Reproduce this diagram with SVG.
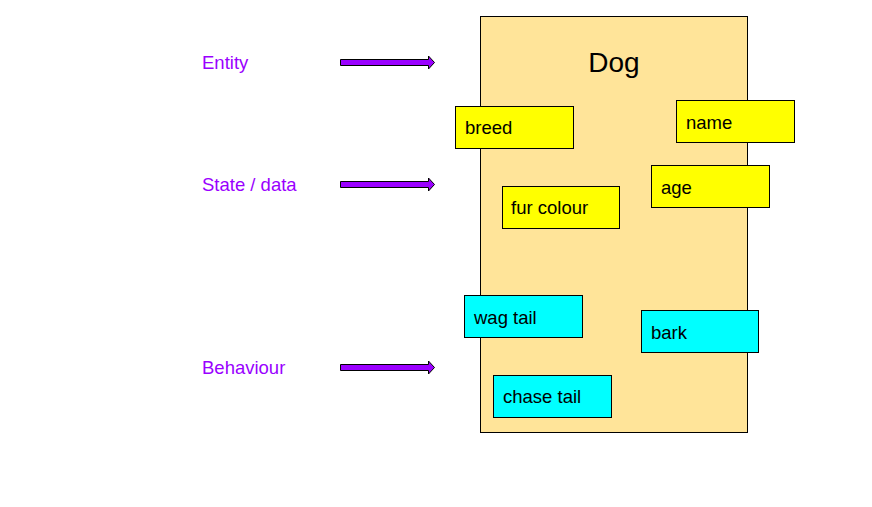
<svg xmlns="http://www.w3.org/2000/svg" width="872" height="507" viewBox="0 0 872 507">
<style>
.lbl{font-family:"Liberation Sans",Arial,sans-serif;font-size:18.5px;fill:#9a00ff}
.t{font-family:"Liberation Sans",Arial,sans-serif;font-size:18.5px;fill:#000}
.st{fill:#ffff00;stroke:#000;stroke-width:1}
.bh{fill:#00ffff;stroke:#000;stroke-width:1}
.arr{fill:#9a00ff;stroke:#000;stroke-width:1}
</style>
<rect width="872" height="507" fill="#fff"/>
<g id="dog">
<rect x="480.5" y="16.5" width="267" height="416" fill="#ffe499" stroke="#000"/>
<text x="614" y="72" text-anchor="middle" font-family="Liberation Sans, Arial, sans-serif" font-size="28">Dog</text>
</g>
<g id="label-entity"><text class="lbl" x="202" y="69">Entity</text></g>
<g id="label-state"><text class="lbl" x="202" y="191">State / data</text></g>
<g id="label-behaviour"><text class="lbl" x="202" y="374">Behaviour</text></g>
<g id="connectors">
<path class="arr" d="M340.5,59.5 H428.5 V56 L434.5,62.5 L428.5,69 V65.5 H340.5 Z"/>
<path class="arr" d="M340.5,181.5 H428.5 V178 L434.5,184.5 L428.5,191 V187.5 H340.5 Z"/>
<path class="arr" d="M340.5,364.5 H428.5 V361 L434.5,367.5 L428.5,374 V370.5 H340.5 Z"/>
</g>
<g id="breed"><rect class="st" x="455.5" y="106.5" width="118" height="42"/><text class="t" x="465" y="134">breed</text></g>
<g id="name"><rect class="st" x="676.5" y="100.5" width="118" height="42"/><text class="t" x="686" y="129">name</text></g>
<g id="age"><rect class="st" x="651.5" y="165.5" width="118" height="42"/><text class="t" x="661" y="194">age</text></g>
<g id="fur-colour"><rect class="st" x="502.5" y="186.5" width="117" height="42"/><text class="t" x="511" y="214">fur colour</text></g>
<g id="wag-tail"><rect class="bh" x="464.5" y="295.5" width="118" height="42"/><text class="t" x="474" y="324">wag tail</text></g>
<g id="bark"><rect class="bh" x="641.5" y="310.5" width="117" height="42"/><text class="t" x="651" y="339">bark</text></g>
<g id="chase-tail"><rect class="bh" x="493.5" y="375.5" width="118" height="42"/><text class="t" x="503" y="403">chase tail</text></g>
</svg>
